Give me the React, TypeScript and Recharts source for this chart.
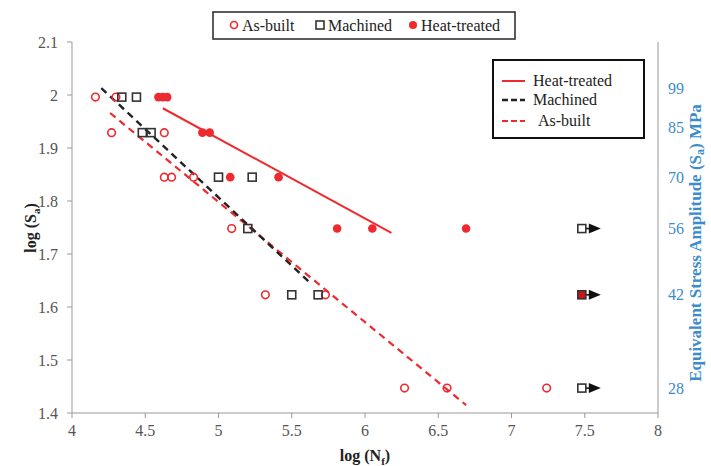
import React from 'react';
import { ScatterChart, Scatter, XAxis, YAxis } from 'recharts';

// log10 of stress amplitude levels (99, 85, 70, 56, 42, 28 MPa)
const xTicks = [4, 4.5, 5, 5.5, 6, 6.5, 7, 7.5, 8];
const yTicks = [1.4, 1.5, 1.6, 1.7, 1.8, 1.9, 2, 2.1];
const rightTicks = [1.996, 1.929, 1.845, 1.748, 1.623, 1.447];
const rightLabels = ['99', '85', '70', '56', '42', '28'];

const asBuilt = [
  { x: 4.16, y: 1.996 }, { x: 4.30, y: 1.996 },
  { x: 4.27, y: 1.929 }, { x: 4.63, y: 1.929 },
  { x: 4.63, y: 1.845 }, { x: 4.68, y: 1.845 }, { x: 4.83, y: 1.845 },
  { x: 5.09, y: 1.748 },
  { x: 5.32, y: 1.623 }, { x: 5.73, y: 1.623 },
  { x: 6.27, y: 1.447 }, { x: 6.56, y: 1.447 }, { x: 7.24, y: 1.447 },
];

const machined = [
  { x: 4.34, y: 1.996 }, { x: 4.44, y: 1.996 },
  { x: 4.48, y: 1.929 }, { x: 4.54, y: 1.929 },
  { x: 5.00, y: 1.845 }, { x: 5.23, y: 1.845 },
  { x: 5.20, y: 1.748 },
  { x: 5.50, y: 1.623 }, { x: 5.68, y: 1.623 },
];

const heatTreated = [
  { x: 4.59, y: 1.996 }, { x: 4.62, y: 1.996 }, { x: 4.65, y: 1.996 },
  { x: 4.89, y: 1.929 }, { x: 4.94, y: 1.929 },
  { x: 5.08, y: 1.845 }, { x: 5.41, y: 1.845 },
  { x: 5.81, y: 1.748 }, { x: 6.05, y: 1.748 }, { x: 6.69, y: 1.748 },
];

const runouts = [
  { x: 7.48, y: 1.748, kind: 'machined' },
  { x: 7.48, y: 1.623, kind: 'heat' },
  { x: 7.48, y: 1.447, kind: 'machined' },
];

const heatFit = [{ x: 4.62, y: 1.975 }, { x: 6.18, y: 1.740 }];
const machinedFit = [{ x: 4.20, y: 2.013 }, { x: 5.62, y: 1.647 }];
const asBuiltFit = [{ x: 4.26, y: 1.966 }, { x: 6.69, y: 1.415 }];

const RED = '#ee2a2f';
const DARK = '#333333';
const BLUE = '#3a8ccc';
const FONT = 'Liberation Serif, Times New Roman, serif';

const Circle = (p: any) => (
  <circle cx={p.cx} cy={p.cy} r={3.8} fill="none" stroke={RED} strokeWidth={1.6} />
);
const Square = (p: any) => (
  <rect x={p.cx - 4} y={p.cy - 4} width={8} height={8} fill="none" stroke={DARK} strokeWidth={1.6} />
);
const Dot = (p: any) => <circle cx={p.cx} cy={p.cy} r={4.3} fill={RED} stroke="none" />;
const Runout = (p: any) => {
  const { cx, cy } = p;
  const fill = p.payload && p.payload.kind === 'heat' ? '#d0101a' : '#ffffff';
  return (
    <g>
      <line x1={cx + 4} y1={cy} x2={cx + 8} y2={cy} stroke="#111" strokeWidth={1.6} />
      <polygon points={`${cx + 7},${cy - 5} ${cx + 19},${cy} ${cx + 7},${cy + 5}`} fill="#111" />
      <rect x={cx - 4} y={cy - 4} width={8} height={8} fill={fill} stroke={DARK} strokeWidth={1.6} />
    </g>
  );
};
const NoShape = () => <g />;

const RightTick = (p: any) => {
  const idx = rightTicks.indexOf(p.payload.value);
  const shift = idx === 0 ? -9 : idx === 1 ? -5 : 0;
  return (
    <text x={p.x} y={p.y + shift} dy="0.35em" textAnchor="start" fill={BLUE} fontSize={16} style={{ fontFamily: FONT }}>
      {rightLabels[idx]}
    </text>
  );
};

export default function App() {
  const tickStyle = { fill: '#555', fontSize: 16, fontFamily: FONT, style: { fontFamily: FONT } };
  return (
    <div style={{ position: 'absolute', left: 0, top: 0, width: 711, height: 466, background: '#fff', fontFamily: FONT }}>
      <ScatterChart width={711} height={466} margin={{ top: 42, right: 13, bottom: 23, left: 32 }} style={{ fontFamily: FONT }}>
        <XAxis
          type="number"
          dataKey="x"
          domain={[4, 8]}
          ticks={xTicks}
          allowDataOverflow
          height={30}
          tickSize={5}
          tickMargin={7}
          stroke="#999"
          tick={tickStyle}
          tickFormatter={(v: number) => String(v)}
        />
        <YAxis
          yAxisId="left"
          type="number"
          dataKey="y"
          domain={[1.4, 2.1]}
          ticks={yTicks}
          allowDataOverflow
          width={40}
          tickSize={5}
          tickMargin={9}
          stroke="#999"
          tick={tickStyle}
          tickFormatter={(v: number) => String(v)}
        />
        <YAxis
          yAxisId="right"
          orientation="right"
          type="number"
          dataKey="y"
          domain={[1.4, 2.1]}
          ticks={rightTicks}
          allowDataOverflow
          width={40}
          tickLine={false}
          tickSize={0}
          tickMargin={10}
          stroke="#999"
          tick={<RightTick />}
        />
        <Scatter yAxisId="left" data={asBuiltFit} shape={NoShape} line={{ stroke: RED, strokeWidth: 2.2, strokeDasharray: '7 5' }} isAnimationActive={false} />
        <Scatter yAxisId="left" data={machinedFit} shape={NoShape} line={{ stroke: '#222', strokeWidth: 2.4, strokeDasharray: '7 5' }} isAnimationActive={false} />
        <Scatter yAxisId="left" data={heatFit} shape={NoShape} line={{ stroke: RED, strokeWidth: 2 }} isAnimationActive={false} />
        <Scatter yAxisId="left" data={asBuilt} shape={Circle} isAnimationActive={false} />
        <Scatter yAxisId="left" data={machined} shape={Square} isAnimationActive={false} />
        <Scatter yAxisId="left" data={heatTreated} shape={Dot} isAnimationActive={false} />
        <Scatter yAxisId="left" data={runouts} shape={Runout} isAnimationActive={false} />

        {/* top legend */}
        <g style={{ fontFamily: FONT }} fontSize={16} fill="#222">
          <rect x={213} y={12} width={302} height={27} fill="#fff" stroke="#333" strokeWidth={1.6} />
          <circle cx={234} cy={25} r={3.5} fill="none" stroke={RED} strokeWidth={1.6} />
          <text x={242} y={31}>As-built</text>
          <rect x={316} y={21} width={8} height={8} fill="none" stroke={DARK} strokeWidth={1.6} />
          <text x={328} y={31}>Machined</text>
          <circle cx={413} cy={25} r={4} fill={RED} />
          <text x={421} y={31}>Heat-treated</text>
        </g>

        {/* fit legend */}
        <g style={{ fontFamily: FONT }} fontSize={16} fill="#222">
          <rect x={493} y={60} width={151} height={78} fill="#fff" stroke="#111" strokeWidth={2} />
          <line x1={502} y1={81} x2={525} y2={81} stroke={RED} strokeWidth={2} />
          <text x={533} y={86}>Heat-treated</text>
          <line x1={502} y1={100} x2={525} y2={100} stroke="#222" strokeWidth={2.4} strokeDasharray="6 3" />
          <text x={533} y={105}>Machined</text>
          <line x1={502} y1={121} x2={525} y2={121} stroke={RED} strokeWidth={2} strokeDasharray="6 3" />
          <text x={538} y={126}>As-built</text>
        </g>

        {/* axis titles */}
        <text x={30} y={228} transform="rotate(-90 30 228)" textAnchor="middle" dy="0.35em" style={{ fontFamily: FONT }} fontSize={16} fontWeight="bold" fill="#222">
          log (S<tspan fontSize={11} dy={4}>a</tspan><tspan dy={-4}>)</tspan>
        </text>
        <text x={365} y={461} textAnchor="middle" style={{ fontFamily: FONT }} fontSize={16} fontWeight="bold" fill="#222">
          log (N<tspan fontSize={11} dy={4}>f</tspan><tspan dy={-4}>)</tspan>
        </text>
        <text x={695} y={243} transform="rotate(-90 695 243)" textAnchor="middle" dy="0.35em" style={{ fontFamily: FONT }} fontSize={17} fontWeight="bold" fill={BLUE}>
          Equivalent Stress Amplitude (S<tspan fontSize={12} dy={3}>a</tspan><tspan dy={-3}>) MPa</tspan>
        </text>
      </ScatterChart>
    </div>
  );
}
